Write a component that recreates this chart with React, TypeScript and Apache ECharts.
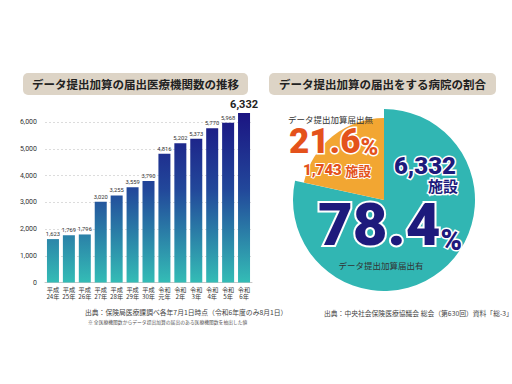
import React, { useEffect, useRef } from "react";
import * as echarts from "echarts";

const leftTitle = "データ提出加算の届出医療機関数の推移";
const rightTitle = "データ提出加算の届出をする病院の割合";
const categories = [
  "平成\n24年", "平成\n25年", "平成\n26年", "平成\n27年", "平成\n28年", "平成\n29年", "平成\n30年",
  "令和\n元年", "令和\n2年", "令和\n3年", "令和\n4年", "令和\n5年", "令和\n6年",
];
const counts = [1623, 1769, 1796, 3020, 3255, 3559, 3790, 4816, 5202, 5373, 5770, 5968, 6332];
const yTicks = [0, 1000, 2000, 3000, 4000, 5000, 6000];
const pieNames = ["データ提出加算届出有", "データ提出加算届出無"];
const piePercents = [78.4, 21.6];
const pieCounts = [6332, 1743];
const leftSource = "出典：保険局医療課調べ各年7月1日時点（令和6年度のみ8月1日）";
const leftNote = "※ 全医療機関数からデータ提出加算の届出のある医療機関数を抽出した値";
const rightSource = "出典：中央社会保険医療協議会 総会（第630回）資料「総-3」";

const fmt = (v: number) => v.toLocaleString("en-US");
const JP = '"Noto Sans CJK JP", "Noto Sans", sans-serif';
const NUM = 'Roboto, "Noto Sans", sans-serif';
const NAVY = "#1d1a7c";
const RED = "#e4521b";

export default function App() {
  const ref = useRef<HTMLDivElement>(null);
  useEffect(() => {
    if (!ref.current) return;
    const chart = echarts.init(ref.current, null, { renderer: "svg" });
    const barGrad = new echarts.graphic.LinearGradient(
      0, 112, 0, 283,
      [
        { offset: 0, color: "#1b1482" },
        { offset: 0.45, color: "#22479a" },
        { offset: 1, color: "#34bdb6" },
      ],
      true
    );
    const option: any = {
      animation: false,
      backgroundColor: "#ffffff",
      textStyle: { fontFamily: JP },
      grid: { left: 45, right: 260, top: 122, bottom: 101.5 },
      xAxis: {
        type: "category",
        data: categories,
        axisLine: { lineStyle: { color: "#c8c8c8" } },
        axisTick: { show: false },
        axisLabel: { interval: 0, fontSize: 6.2, lineHeight: 7.5, color: "#333", margin: 3, fontFamily: JP },
      },
      yAxis: {
        type: "value",
        min: 0,
        max: yTicks[yTicks.length - 1],
        interval: 1000,
        axisLine: { show: false },
        axisTick: { show: false },
        splitLine: { lineStyle: { color: "#dcdcdc", type: [2, 2] } },
        axisLabel: { fontSize: 7, color: "#333", margin: 8, formatter: (v: number) => fmt(v), fontFamily: NUM },
      },
      series: [
        {
          type: "bar",
          data: counts.map((v, i) =>
            i === counts.length - 1
              ? { value: v, label: { fontSize: 11, fontWeight: "bold", color: "#222", distance: 3 } }
              : v
          ),
          barWidth: 12,
          clip: false,
          itemStyle: { color: barGrad },
          label: {
            show: true,
            position: "top",
            distance: 2,
            fontSize: 5.8,
            color: "#333",
            fontFamily: NUM,
            formatter: (p: any) => fmt(p.value),
          },
        },
        {
          type: "pie",
          center: [384, 200],
          radius: [0, 91],
          startAngle: 90,
          clockwise: true,
          silent: true,
          label: { show: false },
          labelLine: { show: false },
          data: [
            { name: pieNames[0], value: piePercents[0], itemStyle: { color: "#31b6b3" } },
            { name: pieNames[1], value: piePercents[1], itemStyle: { color: "rgba(0,0,0,0)" } },
          ],
        },
        {
          type: "pie",
          center: [384, 200],
          radius: [0, 82],
          startAngle: 90,
          clockwise: true,
          silent: true,
          label: { show: false },
          labelLine: { show: false },
          data: [
            { name: pieNames[0], value: piePercents[0], itemStyle: { color: "rgba(0,0,0,0)" } },
            { name: pieNames[1], value: piePercents[1], itemStyle: { color: "#f2a632" } },
          ],
        },
      ],
      graphic: [
        { type: "rect", shape: { x: 23, y: 73, width: 225, height: 22, r: 5 }, style: { fill: "#ddd4c6" } },
        {
          type: "text", x: 135.5, y: 84,
          style: { text: leftTitle, fill: "#222", font: `bold 11.5px ${JP}`, textAlign: "center", textVerticalAlign: "middle" },
        },
        { type: "rect", shape: { x: 269, y: 73, width: 227, height: 22, r: 5 }, style: { fill: "#ddd4c6" } },
        {
          type: "text", x: 382.5, y: 84,
          style: { text: rightTitle, fill: "#222", font: `bold 11.5px ${JP}`, textAlign: "center", textVerticalAlign: "middle" },
        },
        {
          type: "text", x: 85, y: 312,
          style: { text: leftSource, fill: "#444", font: `6.8px ${JP}`, textVerticalAlign: "middle" },
        },
        {
          type: "text", x: 88, y: 321,
          style: { text: leftNote, fill: "#555", font: `4.8px ${JP}`, textVerticalAlign: "middle" },
        },
        {
          type: "text", x: 324, y: 313,
          style: { text: rightSource, fill: "#444", font: `6.8px ${JP}`, textVerticalAlign: "middle" },
        },
        {
          type: "text", x: 288, y: 119, z: 10,
          style: { text: pieNames[1], fill: "#333", font: `8.5px ${JP}`, textVerticalAlign: "middle" },
        },
        {
          type: "text", x: 289, y: 147, z: 10,
          style: {
            text: `{a|${piePercents[1]}}{b|%}`,
            textVerticalAlign: "middle",
            rich: {
              a: { fontSize: 35, fontWeight: 900, fontFamily: NUM, fill: RED, stroke: "#fff", lineWidth: 3, lineHeight: 24, verticalAlign: "bottom" },
              b: { fontSize: 24, fontWeight: 900, fontFamily: NUM, fill: RED, stroke: "#fff", lineWidth: 3, lineHeight: 24, verticalAlign: "bottom" },
            },
          },
        },
        {
          type: "text", x: 303, y: 171, z: 10,
          style: {
            text: `{a|${fmt(pieCounts[1])}} {b|施設}`,
            textVerticalAlign: "middle",
            rich: {
              a: { fontSize: 15, fontWeight: 900, fontFamily: NUM, fill: RED, stroke: "#fff", lineWidth: 2, lineHeight: 12, verticalAlign: "bottom" },
              b: { fontSize: 13, fontWeight: "bold", fontFamily: JP, fill: RED, stroke: "#fff", lineWidth: 2, lineHeight: 12, verticalAlign: "bottom" },
            },
          },
        },
        {
          type: "text", x: 456, y: 165.5, z: 10,
          style: {
            text: fmt(pieCounts[0]), fill: NAVY, font: `900 24px ${NUM}`, textAlign: "right", textVerticalAlign: "middle",
            stroke: "#fff", lineWidth: 3, lineHeight: 20,
          },
        },
        {
          type: "text", x: 458, y: 185.5, z: 10,
          style: { text: "施設", fill: NAVY, font: `bold 15px ${JP}`, textAlign: "right", textVerticalAlign: "middle", stroke: "#fff", lineWidth: 3, lineHeight: 15 },
        },
        {
          type: "text", x: 318, y: 232, z: 10,
          style: {
            text: `{a|${piePercents[0]}}{b|%}`,
            textVerticalAlign: "middle",
            rich: {
              a: { fontSize: 60, fontWeight: 900, fontFamily: NUM, fill: NAVY, stroke: "#fff", lineWidth: 4, lineHeight: 44, verticalAlign: "bottom" },
              b: { fontSize: 29, fontWeight: 900, fontFamily: NUM, fill: NAVY, stroke: "#fff", lineWidth: 3, lineHeight: 44, verticalAlign: "bottom" },
            },
          },
        },
        {
          type: "text", x: 381, y: 265, z: 10,
          style: { text: pieNames[0], fill: "#333", font: `8.5px ${JP}`, textAlign: "center", textVerticalAlign: "middle" },
        },
      ],
    };
    chart.setOption(option);
    return () => chart.dispose();
  }, []);
  return (
    <div
      ref={ref}
      style={{ position: "fixed", left: 0, top: 0, width: 512, height: 384, background: "#fff" }}
    />
  );
}
